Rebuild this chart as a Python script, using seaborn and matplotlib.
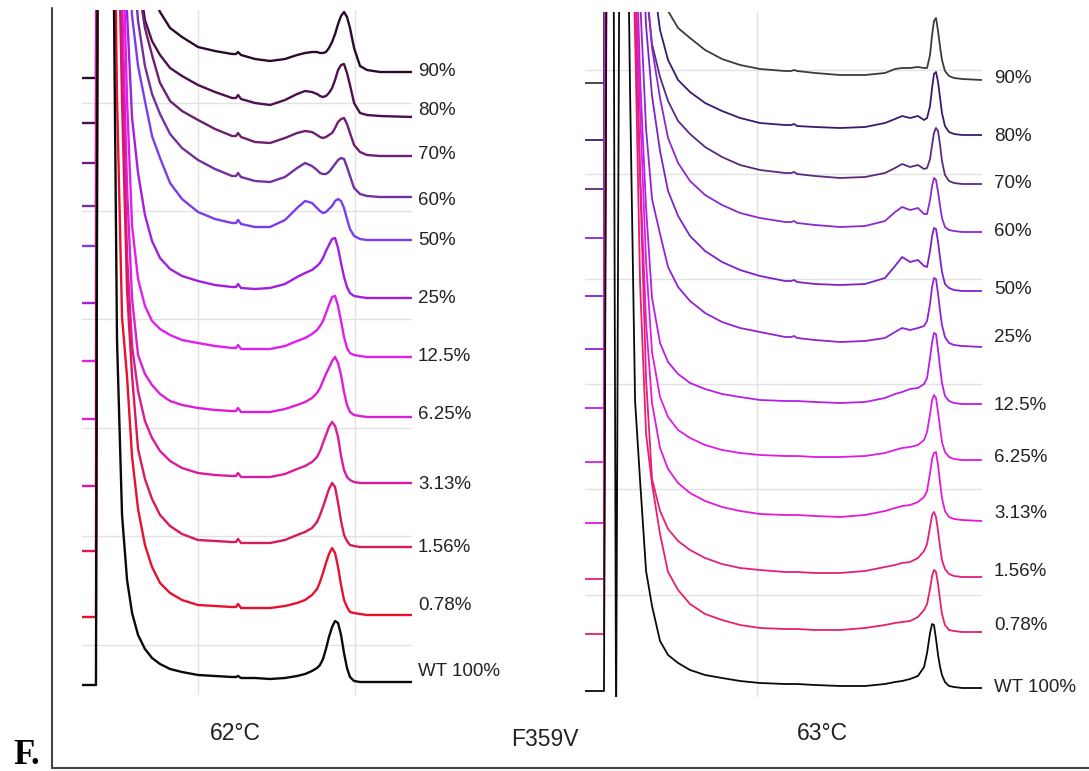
import numpy as np
import pandas as pd
import matplotlib
matplotlib.use("Agg")
import matplotlib.pyplot as plt
import matplotlib.transforms as mtransforms
from matplotlib.lines import Line2D
import seaborn as sns

# ---------------- DATA ----------------
samples = ["90%", "80%", "70%", "60%", "50%", "25%", "12.5%", "6.25%",
           "3.13%", "1.56%", "0.78%", "WT 100%"]

# ----- 62 °C panel: retention time (min) and signal above each trace's baseline (mAU)
t62 = [2.61, 3.50, 3.63, 4.52, 4.84, 5.16, 5.48, 5.80, 6.18, 6.62, 7.07, 7.58, 8.22,
       8.98, 10.00, 11.08, 12.17, 12.42, 12.55, 12.74, 13.63, 14.59, 15.54, 16.31,
       16.82, 17.26, 17.58, 17.77, 17.96, 18.15, 18.34, 18.54, 18.73, 18.92, 19.11,
       19.30, 19.49, 19.68, 19.94, 20.32, 20.76, 21.59, 23.63]
base62 = [617, 572, 532, 489, 449, 392, 334, 276, 209, 144, 78, 10]
s62_90 = [0,0,900,900,700,500,350,250,170,110,85,66,50,41,31,27,24,24,26,23,19,17,19,23,25,26,26,25,25,26,30,36,44,54,62,66,61,50,30,12,8,6,6]
s62_80 = [0,0,900,900,700,500,350,230,150,103,82,68,55,47,38,31,25,25,28,24,20,18,23,29,32,31,29,27,26,27,30,35,43,53,58,59,50,38,20,10,8,7,6]
s62_70 = [0,0,900,900,800,600,420,290,180,135,108,80,62,52,43,34,27,27,30,26,21,20,25,30,32,31,28,26,25,26,28,30,35,41,44,45,39,30,18,11,8,7,7]
s62_60 = [0,0,900,900,800,600,420,260,185,140,112,92,72,58,46,37,30,30,33,29,25,24,29,38,43,40,36,33,32,32,34,38,42,46,48,47,39,30,18,12,10,9,9]
s62_50 = [0,0,900,900,700,480,330,230,180,145,110,88,63,47,34,27,23,23,26,22,19,19,26,38,45,43,38,35,33,34,37,40,45,47,45,38,27,17,10,7,6,6,6]
s62_25 = [0,0,900,900,700,450,290,185,130,88,62,45,34,27,22,18,16,16,19,15,14,15,19,26,30,33,37,40,45,52,58,64,65,55,40,26,16,10,7,6,5,5,5]
s62_12 = [0,0,900,900,700,450,260,135,82,55,40,32,26,21,18,15,13,13,16,12,12,12,15,20,23,27,31,35,40,48,56,64,65,55,40,24,13,8,6,5,4,4,4]
s62_6 = [0,0,900,900,700,420,230,120,64,45,34,25,18,14,11,9,8,8,11,7,7,7,10,14,17,21,26,31,38,45,51,58,62,56,44,27,14,7,4,3,2,2,2]
s62_3 = [0,0,900,900,700,420,230,140,95,65,48,35,25,18,13,11,10,10,13,9,9,9,12,17,20,24,29,35,43,51,59,64,60,49,30,16,9,6,4,3,3,3,3]
s62_1 = [0,0,900,900,700,450,260,175,102,72,52,36,25,17,11,10,9,9,12,8,8,8,11,16,19,23,29,36,44,53,62,68,64,48,30,16,10,6,5,4,4,4,4]
s62_0 = [0,0,900,900,520,300,240,160,108,72,50,34,24,17,12,11,10,10,13,9,9,9,11,14,17,22,28,35,44,54,63,69,64,50,32,17,10,5,4,3,2,2,2]
s62_wt = [0,0,900,900,345,170,105,72,50,36,27,21,16,13,10,9,8,8,9,7,7,6,7,9,11,14,17,20,26,36,48,58,64,62,50,32,17,8,4,3,3,3,3]

# ----- 63 °C panel
t63 = [9.04, 10.25, 10.45, 10.83, 11.02, 11.27, 11.66, 11.91, 12.23, 12.55, 12.93,
       13.31, 13.82, 14.33, 14.97, 15.73, 16.69, 17.77, 18.92, 20.19, 21.78, 22.17,
       22.36, 22.55, 23.69, 25.29, 26.88, 28.15, 28.79, 29.24, 29.75, 30.25, 30.64,
       30.83, 31.02, 31.15, 31.27, 31.40, 31.53, 31.66, 31.78, 31.97, 32.23, 32.55,
       33.06, 34.33]
base63 = [614, 557, 508, 459, 401, 348, 289, 235, 174, 118, 63, 6]
s63_90 = [0,0,900,900,900,900,900,800,600,400,250,150,95,72,55,45,33,24,18,14,12,12,13,12,10,8,8,10,14,15,15,16,15,15,28,48,62,65,52,36,23,12,7,5,4,3]
s63_80 = [0,0,900,900,900,900,900,800,600,400,250,170,110,80,60,48,37,29,22,17,15,15,16,14,13,12,13,17,21,24,22,24,20,22,34,52,66,68,58,42,27,14,8,6,5,5]
s63_70 = [0,0,900,900,900,900,900,800,600,400,200,145,112,88,68,55,42,32,24,19,16,16,17,15,13,11,12,16,21,25,22,24,20,21,30,44,56,61,58,44,28,14,8,6,5,5]
s63_60 = [0,0,900,900,900,900,900,800,600,400,260,190,140,100,75,57,43,33,25,20,16,16,17,15,13,11,12,17,26,31,28,30,24,24,38,52,60,58,46,32,20,11,8,7,6,6]
s63_50 = [0,0,900,900,900,900,900,800,600,400,270,200,145,105,80,60,45,34,26,20,15,15,16,14,12,11,12,18,30,39,34,36,30,29,45,60,68,67,54,38,24,12,8,6,5,5]
s63_25 = [0,0,900,900,900,900,900,800,550,350,220,150,115,82,62,48,36,27,21,17,12,12,13,11,9,7,8,11,17,21,19,21,23,28,45,62,71,70,55,38,24,12,6,4,3,2]
s63_12 = [0,0,900,900,900,900,900,800,500,330,200,110,65,46,34,25,19,14,11,8,7,7,7,7,6,5,6,10,14,16,19,20,24,30,50,66,75,74,58,40,25,12,7,5,4,4]
s63_6 = [0,0,900,900,900,900,900,800,500,350,200,110,65,45,32,24,17,12,9,7,6,6,6,6,5,5,6,9,12,14,15,17,22,30,48,62,67,64,50,34,20,10,5,3,2,2]
s63_3 = [0,0,900,900,900,900,900,800,500,350,200,120,75,54,40,30,22,16,12,9,8,8,8,8,7,6,8,12,15,17,18,21,26,32,50,64,70,71,58,40,25,12,6,4,3,2]
s63_1 = [0,0,900,900,900,900,900,800,600,400,200,100,68,50,38,29,21,15,11,9,7,7,7,7,6,6,8,12,14,16,17,21,28,35,52,64,67,62,48,32,19,10,5,3,2,2]
s63_0 = [0,0,900,900,900,900,900,800,600,350,200,150,100,62,44,30,20,14,9,6,5,5,5,5,4,4,6,9,11,12,13,17,24,30,45,58,64,62,50,34,20,9,4,3,2,2]
s63_wt = [0,0,900,900,-40,900,900,600,290,210,120,85,50,36,28,21,16,13,10,8,7,7,7,7,6,5,5,7,9,10,12,15,24,38,58,67,66,52,36,24,16,9,5,4,3,3]

sig62 = [s62_90, s62_80, s62_70, s62_60, s62_50, s62_25, s62_12, s62_6, s62_3, s62_1, s62_0, s62_wt]
sig63 = [s63_90, s63_80, s63_70, s63_60, s63_50, s63_25, s63_12, s63_6, s63_3, s63_1, s63_0, s63_wt]

# ---------------- STYLE / LAYOUT ----------------
colors62 = ["#2b0b2b", "#4d0f4d", "#6e1f72", "#7230a0", "#7b3cf0", "#a21fe0",
            "#e01ef0", "#dd1ed8", "#dc1a9c", "#d81a5a", "#e8102c", "#0a0a0a"]
colors63 = ["#3c3c3c", "#3a1a6e", "#5a2a7e", "#8a2ad0", "#7d22c8", "#9322d2",
            "#b61fe6", "#dc1de6", "#e21ad8", "#e2207e", "#ea1f6c", "#0a0a0a"]
nudge62 = [1, 7, 2, -3, 0, 0, 1, 3, -1, 0, 9, 10]
nudge63 = [2, -1, 1, 1, 2, 10, -1, 3, 7, 5, 6, 1]

sns.set_theme(style="white")
plt.rcParams["font.family"] = ["Liberation Sans", "DejaVu Sans"]

W, H = 1089, 771
fig = plt.figure(figsize=(W / 100, H / 100), dpi=100)


def box(x0, y0, x1, y1):
    return [x0 / W, 1 - y1 / H, (x1 - x0) / W, (y1 - y0) / H]


ax1 = fig.add_axes(box(82, 10, 412, 695))
ax2 = fig.add_axes(box(585, 12, 982, 697))


def draw(ax, t, bases, sigs, colors, xlim, xgrid, ygrid, lw, label_x, nudges):
    rows = []
    for name, b, s in zip(samples, bases, sigs):
        for ti, si in zip(t, s):
            rows.append((name, ti, b + si))
    df = pd.DataFrame(rows, columns=["sample", "t", "signal"])
    sns.lineplot(data=df, x="t", y="signal", hue="sample", hue_order=samples,
                 palette=colors, estimator=None, sort=False, legend=False,
                 lw=lw, ax=ax)
    ax.set_xlim(*xlim)
    ax.set_ylim(0, 685)
    ax.set_xticks(xgrid)
    ax.set_yticks(ygrid)
    ax.grid(True, color="#e2e2e2", lw=1.0)
    ax.set_axisbelow(True)
    ax.tick_params(length=0, labelbottom=False, labelleft=False)
    for sp in ax.spines.values():
        sp.set_visible(False)
    ax.set_xlabel("")
    ax.set_ylabel("")
    ax.patch.set_alpha(0)
    trans = mtransforms.blended_transform_factory(ax.transAxes, ax.transData)
    for name, b, s, nd in zip(samples, bases, sigs, nudges):
        ax.text(label_x, b + s[-1] + nd, name, transform=trans, ha="left",
                va="center", fontsize=13.5, color="#222222", clip_on=False)


draw(ax1, t62, base62, sig62, colors62, (2.61, 23.63), [10, 20],
     [50, 159, 267, 376, 484, 592], 1.7, 1.018, nudge62)
draw(ax2, t63, base63, sig63, colors63, (9.04, 34.33), [20],
     [102, 208, 313, 418, 523, 627], 1.3, 1.030, nudge63)

fig.text(235 / W, 1 - 733 / H, "62°C", ha="center", va="center", fontsize=16.5, color="#222222")
fig.text(545 / W, 1 - 740 / H, "F359V", ha="center", va="center", fontsize=16.5, color="#222222")
fig.text(822 / W, 1 - 733 / H, "63°C", ha="center", va="center", fontsize=16.5, color="#222222")
fig.text(13 / W, 1 - 764 / H, "F.", ha="left", va="baseline", fontsize=25,
         fontweight="bold", family=["Liberation Serif", "DejaVu Serif"], color="black")

fig.add_artist(Line2D([52 / W, 52 / W], [1 - 8 / H, 1 - 768 / H],
                      transform=fig.transFigure, color="#444444", lw=1.5))
fig.add_artist(Line2D([52 / W, 1.0], [1 - 768 / H, 1 - 768 / H],
                      transform=fig.transFigure, color="#444444", lw=1.5))

fig.savefig("out.png", dpi=100)
